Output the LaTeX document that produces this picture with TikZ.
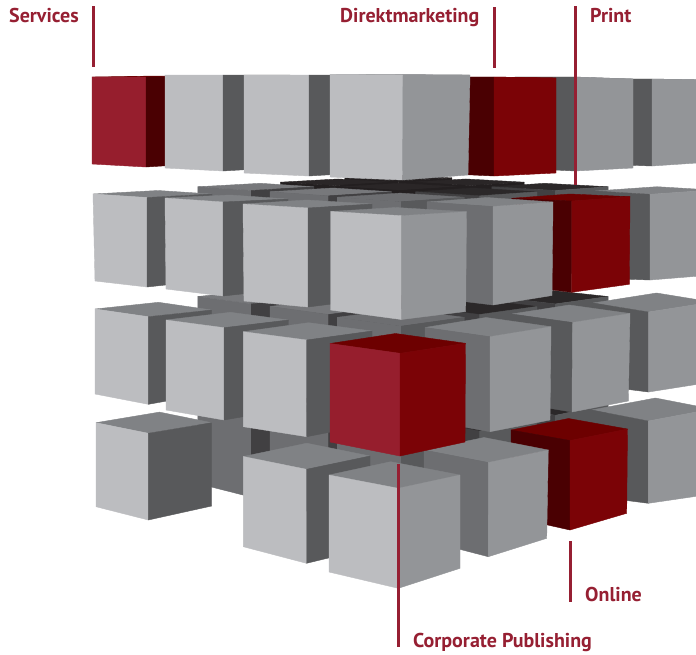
\documentclass[tikz,border=0pt]{standalone}
\usepackage{fontspec}
\newfontfamily\labfont{PT Sans}
\usetikzlibrary{calc}
\definecolor{gL}{HTML}{BCBDC0}
\definecolor{gM}{HTML}{939598}
\definecolor{gD}{HTML}{58595B}
\definecolor{gT}{HTML}{808285}
\definecolor{gB}{HTML}{6D6E71}
\definecolor{redL}{HTML}{961E2D}
\definecolor{redR}{HTML}{7B0306}
\definecolor{redD}{HTML}{4A0002}
\definecolor{redT}{HTML}{6D0000}
\definecolor{lpT}{HTML}{77787B}
\definecolor{lpL}{HTML}{6D6E71}
\definecolor{lpR}{HTML}{414042}
\definecolor{rpT}{HTML}{2B2829}
\definecolor{rpL}{HTML}{414042}
\definecolor{rpR}{HTML}{58595B}
\definecolor{dpT}{HTML}{6D6E71}
\definecolor{dpL}{HTML}{6D6E71}
\definecolor{dpR}{HTML}{58595B}
\definecolor{bkT}{HTML}{2A2627}
\definecolor{bkF}{HTML}{231F20}
\definecolor{labred}{HTML}{961F32}
\tikzset{
  face/.style={fill=#1, draw=#1, line width=0.4pt, line join=round},
  lab/.style={text=labred, font={\labfont\bfseries\fontsize{20}{24}\selectfont}, inner sep=0pt},
  leader/.style={draw=labred, line width=3pt},
}
% front cube: L F R Lb Fb Rb top left right
\newcommand{\fcube}[9]{%
  \coordinate (cL) at (#1);\coordinate (cF) at (#2);\coordinate (cR) at (#3);%
  \coordinate (cLb) at (#4);\coordinate (cFb) at (#5);\coordinate (cRb) at (#6);%
  \path[face=#7] (cL) -- (cF) -- (cR) -- ($(cL)+(cR)-(cF)$) -- cycle;%
  \path[face=#8] (cL) -- (cF) -- (cFb) -- (cLb) -- cycle;%
  \path[face=#9] (cF) -- (cR) -- (cRb) -- (cFb) -- cycle;%
}
% perspective projection of a grid point
\newcommand{\projpt}[5]{%
  \pgfmathsetmacro{\bpw}{(#1)+(#2)+18.56}%
  \pgfmathsetmacro{\bpx}{403+(#4)+(1795*(#2)-1830*(#1))/\bpw}%
  \pgfmathsetmacro{\bpy}{75+2628*(#3)*(1-0.0088*(#3))/\bpw}%
  \coordinate (#5) at (\bpx,\bpy);%
}
% back cube: i j k dx top left right
\newcommand{\bcube}[7]{%
  \pgfmathsetmacro{\bia}{#1+0.747}%
  \pgfmathsetmacro{\bja}{#2+0.747}%
  \pgfmathsetmacro{\btb}{#3+0.747}%
  \projpt{#1}{#2}{#3}{#4}{cF}%
  \projpt{\bia}{#2}{#3}{#4}{cL}%
  \projpt{#1}{\bja}{#3}{#4}{cR}%
  \projpt{\bia}{\bja}{#3}{#4}{cB}%
  \projpt{#1}{#2}{\btb}{#4}{cFb}%
  \projpt{\bia}{#2}{\btb}{#4}{cLb}%
  \projpt{#1}{\bja}{\btb}{#4}{cRb}%
  \path[face=#5] (cL) -- (cF) -- (cR) -- (cB) -- cycle;%
  \path[face=#6] (cL) -- (cF) -- (cFb) -- (cLb) -- cycle;%
  \path[face=#7] (cF) -- (cR) -- (cRb) -- (cFb) -- cycle;%
}
\begin{document}
\begin{tikzpicture}[x=1pt,y=-1pt]
\useasboundingbox (0,0) rectangle (696,654);
\fill[white] (0,0) rectangle (696,654);
\begin{scope}
\clip (0,0) rectangle (696,654);
% ---- back cubes, deepest first
\foreach \k in {1,2,3}{\bcube{3}{3}{\k}{0}{bkT}{bkF}{bkF}}
\foreach \k in {1,2,3}{\bcube{3}{2}{\k}{12}{bkT}{bkF}{bkF}\bcube{2}{3}{\k}{-5}{bkT}{bkF}{bkF}}
\foreach \k in {1,2,3}{\bcube{3}{1}{\k}{12}{lpT}{lpL}{lpR}\bcube{2}{2}{\k}{0}{bkT}{bkF}{bkF}\bcube{1}{3}{\k}{-5}{rpT}{rpL}{rpR}}
\foreach \k in {1,2,3}{\bcube{2}{1}{\k}{12}{lpT}{lpL}{lpR}\bcube{1}{2}{\k}{-5}{rpT}{rpL}{rpR}}
% ---- depth 3 front: L3, R3
\fcube{92,77}{146,77}{210,76}{92,164}{146,167}{210,163}{redT}{redL}{redD}
\fcube{93,194}{147,197.5}{212,194}{95,281}{147,287}{212,280}{gT}{gL}{gD}
\fcube{95,309}{148.3,316.7}{211.7,310}{95,394}{148.3,404.3}{212,393}{gT}{gL}{gD}
\fcube{96,422.7}{148.3,433.3}{211.7,422.7}{96,506.7}{148.3,520}{211.7,506}{gT}{gL}{gD}
\fcube{595,79}{652,79}{712,80}{595,164}{652,166}{712,162}{gT}{gD}{gM}
\fcube{595,191}{650,194.3}{712,190}{595,278}{650,280}{712,275}{gT}{gD}{gM}
\fcube{593,303}{648.5,312}{712,302}{593,385}{648.5,392}{712,382}{gT}{gD}{gM}
\fcube{591.7,410}{648.3,421}{712,409}{592,496}{648.3,503.3}{712,494}{gT}{gD}{gM}
% ---- depth 2
\foreach \k in {1,2,3}{\bcube{1}{1}{\k}{0}{dpT}{dpL}{dpR}}
\fcube{165,75}{223,75}{290,75}{165,168}{223,171}{290,167}{gT}{gL}{gD}
\fcube{165,198}{223,202}{288,199}{166,289}{223,296}{288,289}{gT}{gL}{gD}
\fcube{166,320}{224,327.7}{288.3,320}{166,410}{224,420}{288,409}{gT}{gL}{gD}
\fcube{515,77}{575,77}{633,79}{515,168}{575,171}{633,168}{gT}{gD}{gM}
\fcube{511.7,198.3}{571.7,201}{630,196.7}{512,285}{571.7,292.3}{629.3,284.3}{redT}{redD}{redR}
\fcube{511.7,314}{572.5,322.5}{630,313.5}{512,402}{572,412}{628.3,401}{gT}{gD}{gM}
\fcube{511,430}{570,440.5}{627.5,429}{512,517}{570,530}{626.7,513.3}{redT}{redD}{redR}
% ---- depth 1
\fcube{244,75}{309,75}{375,75}{244,173}{309,176}{375,172}{gT}{gL}{gD}
\fcube{243,204}{308,208}{372,204}{244,301}{308,307}{372,299}{gT}{gL}{gD}
\fcube{243.3,331.7}{306.7,340}{372,331}{243.3,426.7}{306.7,436.7}{372,424}{gT}{gL}{gD}
\fcube{243.3,456.5}{306.5,469.3}{370,456}{243.3,546.7}{306.5,563.3}{370,548}{gT}{gL}{gD}
\fcube{430,77}{494,77}{556,78}{430,173}{494,176}{556,173}{redT}{redD}{redR}
\fcube{427,202}{493,206.5}{553,202}{427,297}{493,305}{552,295.5}{gT}{gB}{gM}
\fcube{425,327.5}{490,336.7}{551,326.7}{425,420}{490,431.7}{550,420}{gT}{gB}{gM}
\fcube{424,450}{488.3,462.5}{548.3,450}{424,540}{488.3,556.7}{546.7,538.3}{gT}{gB}{gM}
% ---- depth 0: corner column
\fcube{330,74.5}{403,75}{470,75}{330,177}{402.5,180}{468,175}{gT}{gL}{gM}
\fcube{330.5,211.5}{401.5,215.7}{466.5,211.7}{330.5,310}{401.5,319.5}{465.7,311.5}{gT}{gL}{gM}
\fcube{330,343.5}{400,353.3}{465.5,343.3}{330,442}{400,456}{465,442}{redT}{redL}{redR}
\fcube{329,475}{398.3,488.3}{460,475}{329,572}{398.3,588.3}{460,568.3}{gT}{gL}{gM}
\end{scope}
% ---- labels and leaders
\node[lab, anchor=base west] (services) at (9,22.7) {Services};
\node[lab, anchor=base west] (direkt) at (340,22.7) {Direktmarketing};
\node[lab, anchor=base west] (print) at (590,22.7) {Print};
\node[lab, anchor=base west] (online) at (585,601.7) {Online};
\node[lab, anchor=base west] (corp) at (413,647.3) {Corporate Publishing};
\coordinate (sTop) at (93.5,6);   \coordinate (sBot) at (93.5,67);
\coordinate (dTop) at (494.5,7);  \coordinate (dBot) at (494.5,68);
\coordinate (pTop) at (575.5,6);  \coordinate (pBot) at (575.5,185);
\coordinate (oTop) at (570.5,541);\coordinate (oBot) at (570.5,602);
\coordinate (kTop) at (398.5,464);\coordinate (kBot) at (398.5,647);
\draw[leader] (sTop) -- (sBot);
\draw[leader] (dTop) -- (dBot);
\draw[leader] (pTop) -- (pBot);
\draw[leader] (oTop) -- (oBot);
\draw[leader] (kTop) -- (kBot);
\end{tikzpicture}
\end{document}
